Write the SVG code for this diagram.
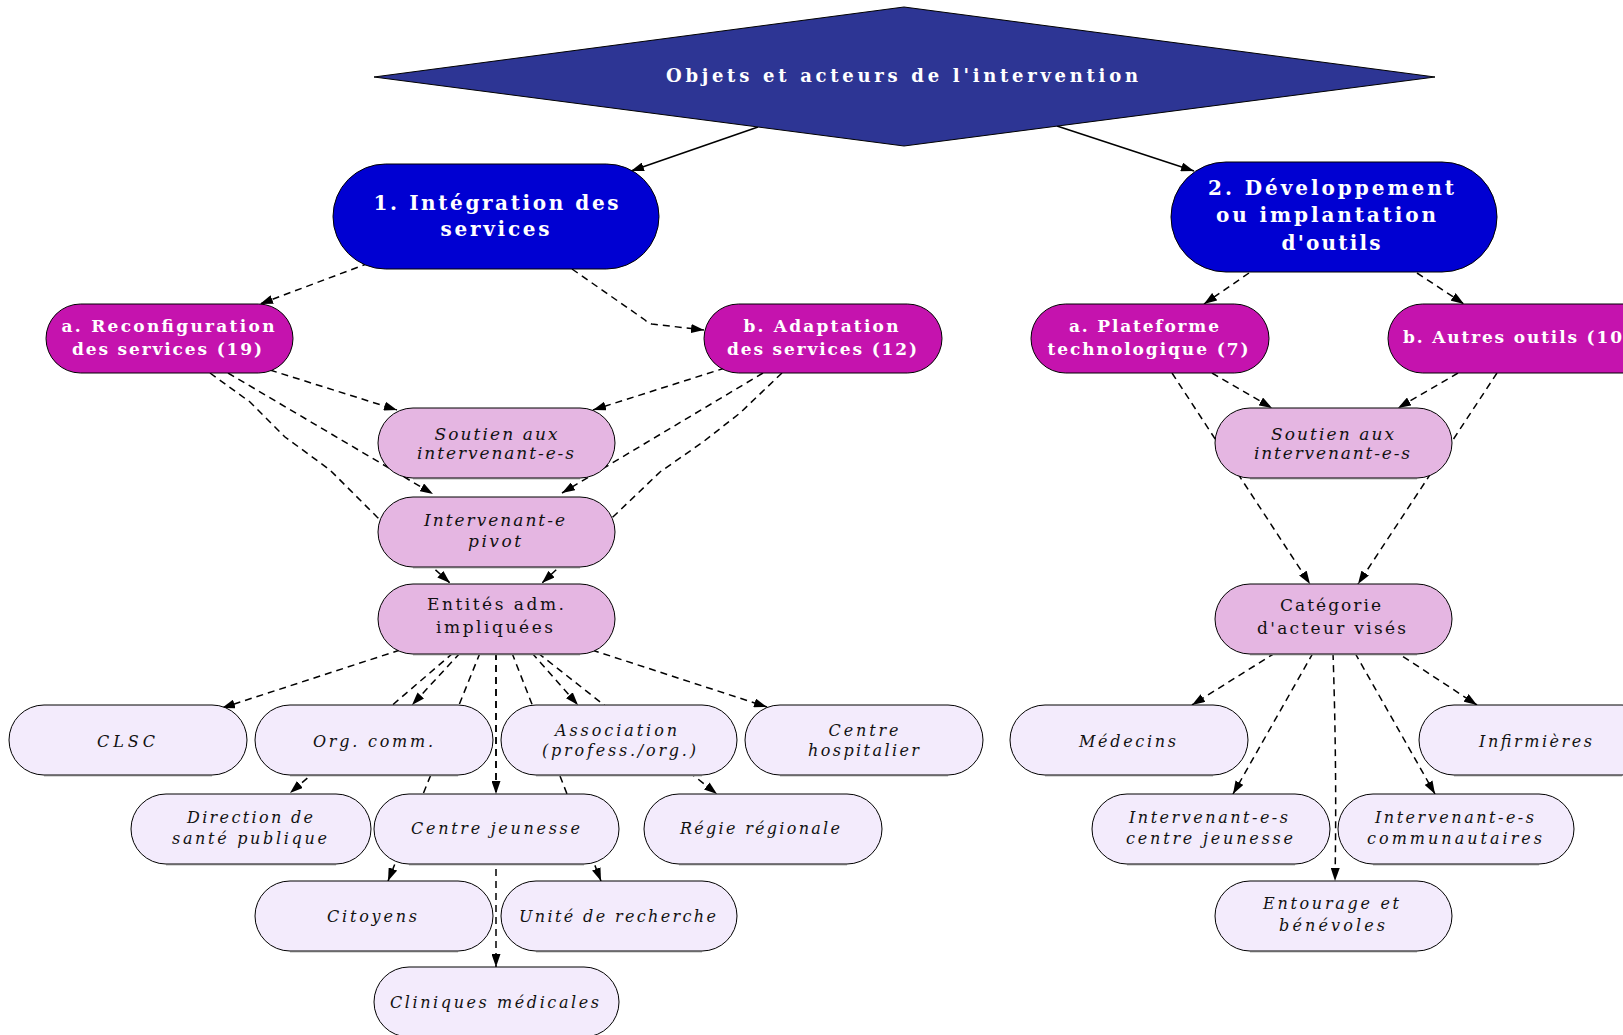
<svg xmlns="http://www.w3.org/2000/svg" width="1623" height="1035" viewBox="0 0 1623 1035">
<style>
rect,polygon{stroke:#000;stroke-width:1}
.top{fill:#2D3594}
.blue{fill:#0000D2}
.mag{fill:#C513AE}
.pink{fill:#E5B6E2}
.lite{fill:#F3EBFC}
.sh{stroke:#6a6a6a;stroke-width:1.3;fill:none}
text{font-family:"DejaVu Serif","Liberation Serif",serif;text-anchor:middle}
.tb{fill:#fff;font-weight:bold}
.t1{font-size:18px}
.t2{font-size:20px}
.t3{font-size:17px}
.ti{font-style:italic;fill:#111;font-size:17px}
.tl{font-style:italic;fill:#111;font-size:16px}
.tp{fill:#111;font-size:17px}
.e{fill:none;stroke:#000;stroke-width:1.5;stroke-dasharray:7 5;marker-end:url(#ah)}
.s{fill:none;stroke:#000;stroke-width:1.5;marker-end:url(#ah)}
</style>
<defs>
<marker id="ah" markerUnits="userSpaceOnUse" markerWidth="13" markerHeight="9" refX="13" refY="4.5" orient="auto"><path d="M0,0 L13,4.5 L0,9 Z" fill="#000" stroke="none"/></marker>
</defs>
<g id="connectors">
<path class="s" d="M758,127 L631,171"/>
<path class="s" d="M1057,126 L1194,171"/>
<path class="e" d="M369,263 L260,304"/>
<path class="e" d="M572,269 L645,320 Q648,323 652,324 L704,330"/>
<path class="e" d="M270,370 L397,410"/>
<path class="e" d="M228,373 L433,494"/>
<path class="e" d="M210,373 L250,402 L285,437 L330,470 L377,517 L450,583"/>
<path class="e" d="M725,368 L593,410"/>
<path class="e" d="M763,373 L562,493"/>
<path class="e" d="M782,373 L740,413 L703,442 L660,472 L615,515 L542,583"/>
<path class="e" d="M400,650 L222,708"/>
<path class="e" d="M460,653 L412,705"/>
<path class="e" d="M453,653 L290,793"/>
<path class="e" d="M480,653 L388,881"/>
<path class="e" d="M496,653 L496,794"/>
<path class="e" d="M496,653 L496,967"/>
<path class="e" d="M512,653 L601,881"/>
<path class="e" d="M532,653 L578,705"/>
<path class="e" d="M538,653 L717,794"/>
<path class="e" d="M592,650 L767,707"/>
<path class="e" d="M1249,273 L1204,304"/>
<path class="e" d="M1417,273 L1464,304"/>
<path class="e" d="M1212,373 L1272,408"/>
<path class="e" d="M1172,373 L1310,584"/>
<path class="e" d="M1458,373 L1398,408"/>
<path class="e" d="M1497,373 L1358,584"/>
<path class="e" d="M1275,653 L1192,705"/>
<path class="e" d="M1313,653 L1233,794"/>
<path class="e" d="M1333,653 Q1337,770 1335,881"/>
<path class="e" d="M1355,653 L1435,794"/>
<path class="e" d="M1393,650 L1477,705"/>
</g>
<g id="root">
<polygon class="top" points="374,77 904,7 1435,77 904,146"/>
<text class="tb t1" x="902" y="82" textLength="472" lengthAdjust="spacing">Objets et acteurs de l'intervention</text>
</g>
<g id="n1">
<rect class="blue" x="333" y="164" width="326" height="105" rx="52.5"/>
<text class="tb t2" x="496" y="210" textLength="245" lengthAdjust="spacing">1. Intégration des</text>
<text class="tb t2" x="495" y="236" textLength="109" lengthAdjust="spacing">services</text>
</g>
<g id="n2">
<rect class="blue" x="1171" y="162" width="326" height="110" rx="55"/>
<text class="tb t2" x="1331" y="195" textLength="246" lengthAdjust="spacing">2. Développement</text>
<text class="tb t2" x="1326" y="222" textLength="220" lengthAdjust="spacing">ou implantation</text>
<text class="tb t2" x="1331" y="250" textLength="99" lengthAdjust="spacing">d'outils</text>
</g>
<g id="n1a">
<rect class="mag" x="46" y="304" width="247" height="69" rx="34.5"/>
<text class="tb t3" x="168" y="332" textLength="213" lengthAdjust="spacing">a. Reconfiguration</text>
<text class="tb t3" x="167" y="355" textLength="190" lengthAdjust="spacing">des services (19)</text>
</g>
<g id="n1b">
<rect class="mag" x="704" y="304" width="238" height="69" rx="34.5"/>
<text class="tb t3" x="821" y="332" textLength="155" lengthAdjust="spacing">b. Adaptation</text>
<text class="tb t3" x="822" y="355" textLength="190" lengthAdjust="spacing">des services (12)</text>
</g>
<g id="n2a">
<rect class="mag" x="1031" y="304" width="238" height="69" rx="34.5"/>
<text class="tb t3" x="1144" y="332" textLength="150" lengthAdjust="spacing">a. Plateforme</text>
<text class="tb t3" x="1148" y="355" textLength="201" lengthAdjust="spacing">technologique (7)</text>
</g>
<g id="n2b">
<rect class="mag" x="1388" y="304" width="270" height="69" rx="34.5"/>
<text class="tb t3" x="1403" y="343" textLength="219" lengthAdjust="spacing" style="text-anchor:start">b. Autres outils (10</text>
</g>
<g id="soutien1">
<rect class="pink" x="378" y="408" width="237" height="70" rx="35"/>
<path class="sh" d="M413,478.6 H580"/>
<text class="ti" x="496" y="440" textLength="123" lengthAdjust="spacing">Soutien aux</text>
<text class="ti" x="495.5" y="459" textLength="157" lengthAdjust="spacing">intervenant-e-s</text>
</g>
<g id="pivot">
<rect class="pink" x="378" y="497" width="237" height="70" rx="35"/>
<path class="sh" d="M413,567.6 H580"/>
<text class="ti" x="494.5" y="526" textLength="141" lengthAdjust="spacing">Intervenant-e</text>
<text class="ti" x="494.5" y="547" textLength="53" lengthAdjust="spacing">pivot</text>
</g>
<g id="entites">
<rect class="pink" x="378" y="584" width="237" height="70" rx="35"/>
<path class="sh" d="M413,654.6 H580"/>
<text class="tp" x="495.5" y="610" textLength="137" lengthAdjust="spacing">Entités adm.</text>
<text class="tp" x="494.5" y="633" textLength="117" lengthAdjust="spacing">impliquées</text>
</g>
<g id="soutien2">
<rect class="pink" x="1215" y="408" width="237" height="70" rx="35"/>
<path class="sh" d="M1250,478.6 H1417"/>
<text class="ti" x="1332.5" y="440" textLength="123" lengthAdjust="spacing">Soutien aux</text>
<text class="ti" x="1332" y="459" textLength="156" lengthAdjust="spacing">intervenant-e-s</text>
</g>
<g id="categorie">
<rect class="pink" x="1215" y="584" width="237" height="70" rx="35"/>
<path class="sh" d="M1250,654.6 H1417"/>
<text class="tp" x="1330.5" y="611" textLength="101" lengthAdjust="spacing">Catégorie</text>
<text class="tp" x="1331.5" y="634" textLength="149" lengthAdjust="spacing">d'acteur visés</text>
</g>
<g id="clsc">
<rect class="lite" x="9" y="705" width="238" height="70" rx="35"/>
<path class="sh" d="M44,775.6 H212"/>
<text class="tl" x="126" y="747" textLength="58" lengthAdjust="spacing">CLSC</text>
</g>
<g id="orgcomm">
<rect class="lite" x="255" y="705" width="238" height="70" rx="35"/>
<path class="sh" d="M290,775.6 H458"/>
<text class="tl" x="373" y="747" textLength="120" lengthAdjust="spacing">Org. comm.</text>
</g>
<g id="association">
<rect class="lite" x="501" y="705" width="236" height="70" rx="35"/>
<path class="sh" d="M536,775.6 H702"/>
<text class="tl" x="616" y="736" textLength="122" lengthAdjust="spacing">Association</text>
<text class="tl" x="619" y="756" textLength="154" lengthAdjust="spacing">(profess./org.)</text>
</g>
<g id="hospitalier">
<rect class="lite" x="745" y="705" width="238" height="70" rx="35"/>
<path class="sh" d="M780,775.6 H948"/>
<text class="tl" x="863.5" y="736" textLength="70" lengthAdjust="spacing">Centre</text>
<text class="tl" x="863.5" y="756" textLength="111" lengthAdjust="spacing">hospitalier</text>
</g>
<g id="medecins">
<rect class="lite" x="1010" y="705" width="238" height="70" rx="35"/>
<path class="sh" d="M1045,775.6 H1213"/>
<text class="tl" x="1127.5" y="747" textLength="97" lengthAdjust="spacing">Médecins</text>
</g>
<g id="infirmieres">
<rect class="lite" x="1419" y="705" width="238" height="70" rx="35"/>
<path class="sh" d="M1454,775.6 H1622"/>
<text class="tl" x="1535.5" y="747" textLength="113" lengthAdjust="spacing">Infirmières</text>
</g>
<g id="dsp">
<rect class="lite" x="131" y="794" width="240" height="70" rx="35"/>
<path class="sh" d="M166,864.6 H336"/>
<text class="tl" x="250" y="823" textLength="126" lengthAdjust="spacing">Direction de</text>
<text class="tl" x="249.5" y="844" textLength="155" lengthAdjust="spacing">santé publique</text>
</g>
<g id="centrejeunesse">
<rect class="lite" x="374" y="794" width="245" height="70" rx="35"/>
<path class="sh" d="M409,864.6 H584"/>
<text class="tl" x="495.5" y="834" textLength="169" lengthAdjust="spacing">Centre jeunesse</text>
</g>
<g id="regie">
<rect class="lite" x="644" y="794" width="238" height="70" rx="35"/>
<path class="sh" d="M679,864.6 H847"/>
<text class="tl" x="760" y="834" textLength="160" lengthAdjust="spacing">Régie régionale</text>
</g>
<g id="intcj">
<rect class="lite" x="1092" y="794" width="238" height="70" rx="35"/>
<path class="sh" d="M1127,864.6 H1295"/>
<text class="tl" x="1208.5" y="823" textLength="159" lengthAdjust="spacing">Intervenant-e-s</text>
<text class="tl" x="1209.5" y="844" textLength="167" lengthAdjust="spacing">centre jeunesse</text>
</g>
<g id="intcomm">
<rect class="lite" x="1338" y="794" width="236" height="70" rx="35"/>
<path class="sh" d="M1373,864.6 H1539"/>
<text class="tl" x="1454.5" y="823" textLength="159" lengthAdjust="spacing">Intervenant-e-s</text>
<text class="tl" x="1454.5" y="844" textLength="175" lengthAdjust="spacing">communautaires</text>
</g>
<g id="citoyens">
<rect class="lite" x="255" y="881" width="238" height="70" rx="35"/>
<path class="sh" d="M290,951.6 H458"/>
<text class="tl" x="372" y="922" textLength="90" lengthAdjust="spacing">Citoyens</text>
</g>
<g id="unite">
<rect class="lite" x="501" y="881" width="236" height="70" rx="35"/>
<path class="sh" d="M536,951.6 H702"/>
<text class="tl" x="617.5" y="922" textLength="197" lengthAdjust="spacing">Unité de recherche</text>
</g>
<g id="entourage">
<rect class="lite" x="1215" y="881" width="237" height="70" rx="35"/>
<path class="sh" d="M1250,951.6 H1417"/>
<text class="tl" x="1331" y="909" textLength="136" lengthAdjust="spacing">Entourage et</text>
<text class="tl" x="1332" y="931" textLength="106" lengthAdjust="spacing">bénévoles</text>
</g>
<g id="cliniques">
<rect class="lite" x="374" y="967" width="245" height="70" rx="35"/>
<text class="tl" x="494.5" y="1008" textLength="209" lengthAdjust="spacing">Cliniques médicales</text>
</g>
</svg>
